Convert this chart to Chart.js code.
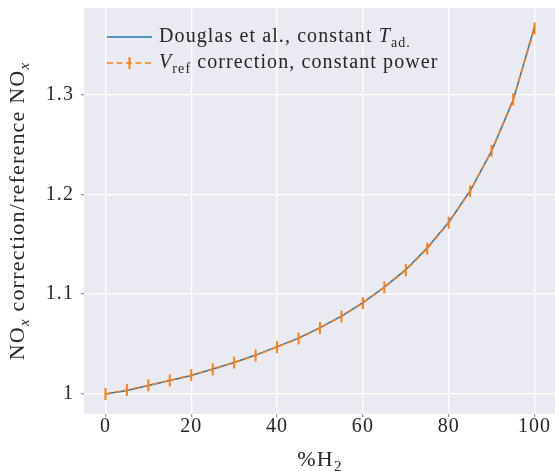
<!DOCTYPE html>
<html>
<head>
<meta charset="utf-8">
<script src="https://cdn.jsdelivr.net/npm/chart.js@4"></script>
<style>
  html, body { margin: 0; padding: 0; background: #fff; overflow: hidden; }
  canvas { display: block; }
</style>
</head>
<body>
<canvas id="grafica" width="564" height="471"></canvas>
<script>
// % H2 en la mezcla
const porcentajeH2 = [0, 5, 10, 15, 20, 25, 30, 35, 40, 45, 50, 55, 60, 65, 70, 75, 80, 85, 90, 95, 100];
// Douglas et al., T adiabatica constante
const douglas = [1.000, 1.0035, 1.0085, 1.0135, 1.0185, 1.025, 1.0315, 1.039, 1.0475, 1.056, 1.0665,
                 1.078, 1.0915, 1.107, 1.1245, 1.1465, 1.172, 1.2035, 1.2435, 1.294, 1.368];
// correccion Vref, potencia constante
const vref = [1.000, 1.004, 1.0087, 1.0136, 1.019, 1.0247, 1.0315, 1.0386, 1.047, 1.0555, 1.066,
              1.0776, 1.091, 1.1068, 1.124, 1.1455, 1.1715, 1.203, 1.2435, 1.295, 1.366];
const ticksX = [0, 20, 40, 60, 80, 100];
const ticksY = [1, 1.1, 1.2, 1.3];

// textos con subindices (se dibujan a mano)
const leyenda = [
  [{t: 'Douglas et al., constant '}, {t: 'T', it: true}, {t: 'ad.', sub: true}],
  [{t: 'V', it: true}, {t: 'ref', sub: true}, {t: ' correction, constant power'}]
];
const tituloX = [{t: '%H'}, {t: '2', sub: true}];
const tituloY = [{t: 'NO'}, {t: 'x', it: true, sub: true}, {t: ' correction/reference NO'}, {t: 'x', it: true, sub: true}];

const AZUL = '#1f77b4';
const NARANJA = '#ff7f0e';
const FUENTE = '"Liberation Serif", serif';
const TAM_TITULO = 22;   // titulos de ejes
const TAM = 20;          // ticks y leyenda
const ESP_TITULO = '1.2px';
const ESP = '1.1px';

function fuente(p, tam) {
  const s = p.sub ? Math.round(tam * 0.7) : tam;
  return (p.it ? 'italic ' : '') + s + 'px ' + FUENTE;
}
function anchoRich(ctx, partes, tam) {
  let w = 0;
  partes.forEach(p => { ctx.font = fuente(p, tam); w += ctx.measureText(p.t).width; });
  return w;
}
function dibujarRich(ctx, partes, x, y, tam) {
  ctx.textBaseline = 'middle';
  ctx.textAlign = 'left';
  partes.forEach(p => {
    ctx.font = fuente(p, tam);
    ctx.fillText(p.t, x, p.sub ? y + tam * 0.3 : y);
    x += ctx.measureText(p.t).width;
  });
}
// sin relleno extra de las escalas: el area del grafico queda fija
function sinPadding(s) {
  s.paddingLeft = 0; s.paddingRight = 0; s.paddingTop = 0; s.paddingBottom = 0;
}

const extras = {
  id: 'extras',
  beforeDraw(chart) {
    const {ctx, chartArea: a} = chart;
    ctx.letterSpacing = ESP;
    ctx.save();
    ctx.fillStyle = '#eaeaf2';
    ctx.fillRect(a.left, a.top, a.right - a.left, a.bottom - a.top);
    ctx.restore();
  },
  afterDraw(chart) {
    const {ctx, chartArea: a} = chart;
    ctx.save();
    ctx.letterSpacing = ESP_TITULO;
    ctx.fillStyle = '#262626';
    // titulo eje x
    const wx = anchoRich(ctx, tituloX, TAM_TITULO);
    dibujarRich(ctx, tituloX, (a.left + a.right) / 2 - wx / 2, 460, TAM_TITULO);
    // titulo eje y
    const wy = anchoRich(ctx, tituloY, TAM_TITULO);
    ctx.translate(18, (a.top + a.bottom) / 2);
    ctx.rotate(-Math.PI / 2);
    dibujarRich(ctx, tituloY, -wy / 2, 0, TAM_TITULO);
    ctx.restore();

    // leyenda
    ctx.save();
    ctx.letterSpacing = ESP;
    const x0 = 107, x1 = 152, filas = [37, 63];
    ctx.lineWidth = 1.5;
    ctx.strokeStyle = AZUL;
    ctx.beginPath(); ctx.moveTo(x0, filas[0]); ctx.lineTo(x1, filas[0]); ctx.stroke();
    ctx.strokeStyle = NARANJA;
    ctx.setLineDash([6, 3.5]);
    ctx.beginPath(); ctx.moveTo(x0, filas[1]); ctx.lineTo(x1, filas[1]); ctx.stroke();
    ctx.setLineDash([]);
    ctx.lineWidth = 2;
    ctx.beginPath(); ctx.moveTo(129.5, filas[1] - 6); ctx.lineTo(129.5, filas[1] + 6); ctx.stroke();
    ctx.fillStyle = '#262626';
    dibujarRich(ctx, leyenda[0], 159, filas[0], TAM);
    dibujarRich(ctx, leyenda[1], 159, filas[1], TAM);
    ctx.restore();
  }
};

const ctx = document.getElementById('grafica').getContext('2d');
new Chart(ctx, {
  type: 'line',
  data: {
    datasets: [{
      label: 'Douglas et al., constant T_ad.',
      data: porcentajeH2.map((x, i) => ({x: x, y: douglas[i]})),
      borderColor: AZUL,
      borderWidth: 1.5,
      pointRadius: 0,
      fill: false,
      order: 1
    }, {
      label: 'V_ref correction, constant power',
      data: porcentajeH2.map((x, i) => ({x: x, y: vref[i]})),
      borderColor: NARANJA,
      borderWidth: 1.5,
      borderDash: [6, 3.5],
      pointStyle: 'line',
      pointRotation: 90,
      pointRadius: 6,
      pointBorderWidth: 2,
      pointBorderColor: NARANJA,
      fill: false,
      order: 0
    }]
  },
  plugins: [extras],
  options: {
    responsive: false,
    animation: false,
    events: [],
    layout: { padding: { top: 6, left: 0, right: 0, bottom: 0 } },
    scales: {
      x: {
        type: 'linear',
        min: -5,
        max: 105,
        afterBuildTicks: s => { s.ticks = ticksX.map(v => ({value: v})); },
        afterFit: s => { s.height = 57; sinPadding(s); },
        border: { display: false },
        grid: { color: '#ffffff', lineWidth: 1.3, tickLength: 3, tickColor: '#9a9a9a' },
        ticks: { color: '#262626', font: { family: FUENTE, size: TAM }, padding: -2, maxRotation: 0 }
      },
      y: {
        type: 'linear',
        min: 0.980,
        max: 1.3865,
        afterBuildTicks: s => { s.ticks = ticksY.map(v => ({value: v})); },
        afterFit: s => { s.width = 84; sinPadding(s); },
        border: { display: false },
        grid: { color: '#ffffff', lineWidth: 1.3, tickLength: 3, tickColor: '#9a9a9a' },
        ticks: {
          color: '#262626',
          font: { family: FUENTE, size: TAM },
          padding: 7,
          callback: v => v === 1 ? '1' : v.toFixed(1)
        }
      }
    },
    plugins: {
      legend: { display: false },
      tooltip: { enabled: false }
    }
  }
});
</script>
</body>
</html>
